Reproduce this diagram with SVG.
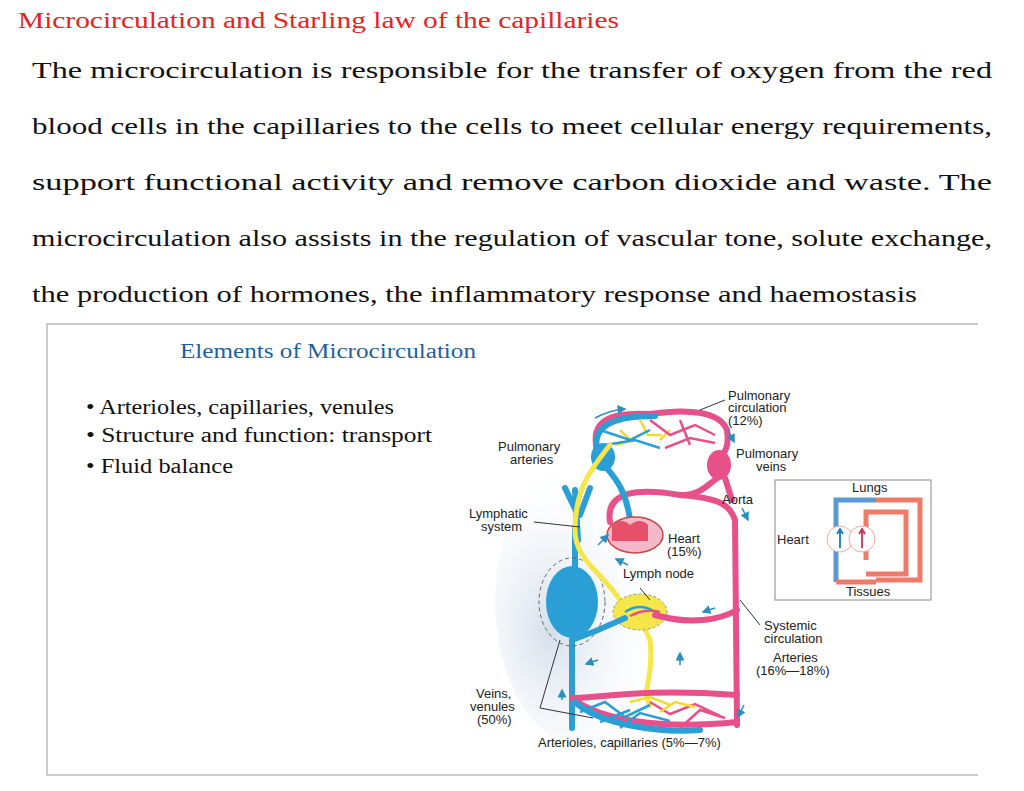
<svg xmlns="http://www.w3.org/2000/svg" width="1024" height="791" viewBox="0 0 1024 791">
<defs>
<style>
.t{font-family:"Liberation Serif",serif;font-size:24px;fill:#111}
.s{font-family:"Liberation Sans",Arial,sans-serif;font-size:13px;fill:#222}
.b{fill:none;stroke:#2a9fd6;stroke-width:6;stroke-linecap:round}
.p{fill:none;stroke:#e8508a;stroke-width:6;stroke-linecap:round}
.y{fill:none;stroke:#f5e64a;stroke-width:5;stroke-linecap:round}
.bt{fill:none;stroke:#2a9fd6;stroke-width:2.5}
.pt{fill:none;stroke:#e8508a;stroke-width:2.5}
.yt{fill:none;stroke:#f2dc30;stroke-width:2.5}
.ld{stroke:#333;stroke-width:1;fill:none}
.ar{fill:none;stroke:#2a8fc0;stroke-width:1.5;marker-end:url(#ah)}
</style>
<marker id="ah" markerWidth="6" markerHeight="6" refX="5" refY="3" orient="auto"><path d="M0,0L6,3L0,6z" fill="#2a8fc0"/></marker>
<radialGradient id="bg" cx="0.3" cy="0.6" r="0.6"><stop offset="0" stop-color="#d3deeb"/><stop offset="1" stop-color="#fff" stop-opacity="0"/></radialGradient>
</defs>
<rect width="1024" height="791" fill="#fff"/>
<text x="18" y="28" textLength="601" lengthAdjust="spacingAndGlyphs" style="font-family:'Liberation Serif',serif;font-size:24px;fill:#e8231f">Microcirculation and Starling law of the capillaries</text>
<g class="t">
<text x="32" y="78" textLength="960" lengthAdjust="spacingAndGlyphs">The microcirculation is responsible for the transfer of oxygen from the red</text>
<text x="32" y="134" textLength="960" lengthAdjust="spacingAndGlyphs">blood cells in the capillaries to the cells to meet cellular energy requirements,</text>
<text x="32" y="190" textLength="960" lengthAdjust="spacingAndGlyphs">support functional activity and remove carbon dioxide and waste. The</text>
<text x="32" y="246" textLength="960" lengthAdjust="spacingAndGlyphs">microcirculation also assists in the regulation of vascular tone, solute exchange,</text>
<text x="32" y="302" textLength="885" lengthAdjust="spacingAndGlyphs">the production of hormones, the inflammatory response and haemostasis</text>
</g>
<path d="M978,324H47V775H978" fill="none" stroke="#bbb" stroke-width="1.5"/>
<text x="180" y="358" textLength="296" lengthAdjust="spacingAndGlyphs" style="font-family:'Liberation Serif',serif;font-size:20px;fill:#1f5f9e">Elements of Microcirculation</text>
<g style="font-family:'Liberation Serif',serif;font-size:20px;fill:#111">
<text x="86" y="414" textLength="308" lengthAdjust="spacingAndGlyphs">• Arterioles, capillaries, venules</text>
<text x="86" y="442" textLength="346" lengthAdjust="spacingAndGlyphs">• Structure and function: transport</text>
<text x="86" y="473" textLength="147" lengthAdjust="spacingAndGlyphs">• Fluid balance</text>
</g>
<g id="illustration">
<ellipse cx="590" cy="600" rx="95" ry="150" fill="url(#bg)"/>
<path d="M597,450C590,420 610,412 650,414C690,408 720,412 727,430C730,450 722,455 718,462" class="p" stroke-width="5"/>
<path d="M597,450C592,425 615,416 655,416" class="b" stroke-width="5"/>
<g class="yt"><path d="M620,430l10,10l15,-8M640,420l8,15l14,0M660,440l10,-10M615,445l20,-5"/></g>
<g class="bt"><path d="M600,430l30,10l20,-10M605,445l30,-5l25,8"/></g>
<g class="pt"><path d="M650,420l20,15l25,-10l20,10M665,448l25,-10l25,5M680,420l10,25"/></g>
<ellipse cx="603" cy="457" rx="12" ry="14" fill="#2a9fd6"/>
<ellipse cx="719" cy="465" rx="12" ry="15" fill="#e8508a"/>
<path d="M610,522C605,490 640,488 680,495C700,497 712,480 718,478" class="p" stroke-width="7"/>
<path d="M680,495C720,498 730,505 735,520L737,725" class="p" stroke-width="7"/>
<path d="M725,478L732,500" class="p"/>
<path d="M630,520C625,480 605,470 603,462" class="b"/>
<path d="M575,528V620M572,640V728" class="b"/>
<path d="M575,490L578,540M565,488L578,515M590,488L580,515" class="b" stroke-width="5"/>
<ellipse cx="572" cy="602" rx="26" ry="36" fill="#2a9fd6"/>
<ellipse cx="572" cy="602" rx="33" ry="44" fill="none" stroke="#666" stroke-dasharray="4 3"/>
<ellipse cx="635" cy="535" rx="28" ry="18" fill="#f5b8c9" stroke="#c44" stroke-width="1.5"/>
<path d="M612,525q10,-8 18,0q10,-8 18,0v16h-36z" fill="#e8506a"/>
<path d="M610,445C590,470 575,490 575,530C575,560 600,570 620,600C630,612 640,615 650,640C655,680 640,690 650,705" class="y"/>
<ellipse cx="640" cy="612" rx="27" ry="18" fill="#f5e64a" stroke="#999" stroke-dasharray="3 2"/>
<path d="M625,612q15,-10 30,0" class="bt"/><path d="M630,616q15,-8 30,-4" class="pt"/>
<path d="M572,640C600,630 610,625 625,618" class="b" stroke-width="4"/>
<path d="M655,615C690,625 720,620 737,610" class="p" stroke-width="4"/>
<path d="M572,698C600,698 640,688 737,695" class="p" stroke-width="4"/>
<path d="M572,698C600,720 660,730 737,722" class="p" stroke-width="4"/>
<path d="M575,702C600,725 660,733 700,730" class="b" stroke-width="4"/>
<g class="bt"><path d="M580,712l25,-10l20,15l25,-12M600,722l30,-12M620,728l20,-15l30,8"/></g>
<g class="pt"><path d="M650,702l20,12l25,-10l25,12M680,728l20,-18l25,8"/></g>
<g class="yt"><path d="M630,702l20,-5l20,8M660,712l15,-10l20,5"/></g>
<path d="M595,418q15,-8 30,-9" class="ar"/>
<path d="M728,430l6,12" class="ar"/>
<path d="M742,508l6,12" class="ar"/>
<path d="M598,545l10,-10" class="ar"/>
<path d="M628,565l-12,-6" class="ar"/>
<path d="M598,660l-12,4" class="ar"/>
<path d="M715,608l-12,4" class="ar"/>
<path d="M680,665v-12" class="ar"/>
<path d="M562,700v-10" class="ar"/>
<path d="M744,705l-6,12" class="ar"/>
<g class="s">
<text x="728" y="400">Pulmonary</text><text x="728" y="412">circulation</text><text x="728" y="425">(12%)</text>
<text x="498" y="451">Pulmonary</text><text x="510" y="464">arteries</text>
<text x="736" y="458">Pulmonary</text><text x="756" y="471">veins</text>
<text x="722" y="504">Aorta</text>
<text x="469" y="518">Lymphatic</text><text x="481" y="531">system</text>
<text x="668" y="543">Heart</text><text x="667" y="556">(15%)</text>
<text x="623" y="578">Lymph node</text>
<text x="764" y="630">Systemic</text><text x="764" y="643">circulation</text>
<text x="773" y="662">Arteries</text><text x="756" y="675">(16%—18%)</text>
<text x="476" y="698">Veins,</text><text x="470" y="711">venules</text><text x="477" y="724">(50%)</text>
<text x="538" y="747">Arterioles, capillaries (5%—7%)</text>
</g>
<path d="M580,527L534,522M640,588L650,600M725,400L700,410M740,600L760,625M560,640L540,708L593,718" class="ld"/>
</g>
<g id="inset">
<rect x="775" y="480" width="156" height="120" fill="#fff" stroke="#888"/>
<path d="M836,582V500h40" fill="none" stroke="#5b9bd5" stroke-width="5"/>
<path d="M876,500h44v80h-44M836,582h40" fill="none" stroke="#f07a6a" stroke-width="5"/>
<path d="M866,560V512h40v62h-40" fill="none" stroke="#f07a6a" stroke-width="5"/>
<circle cx="840" cy="539" r="13" fill="#fff" stroke="#e8b0a0"/>
<circle cx="862" cy="539" r="13" fill="#fff" stroke="#e8b0a0"/>
<path d="M840,548V530m-3,4l3,-5l3,5" stroke="#1f7ab8" stroke-width="1.8" fill="none"/>
<path d="M862,548V530m-3,4l3,-5l3,5" stroke="#d0305a" stroke-width="1.8" fill="none"/>
<g class="s"><text x="852" y="492">Lungs</text><text x="777" y="544">Heart</text><text x="846" y="596">Tissues</text></g>
</g>
</svg>
